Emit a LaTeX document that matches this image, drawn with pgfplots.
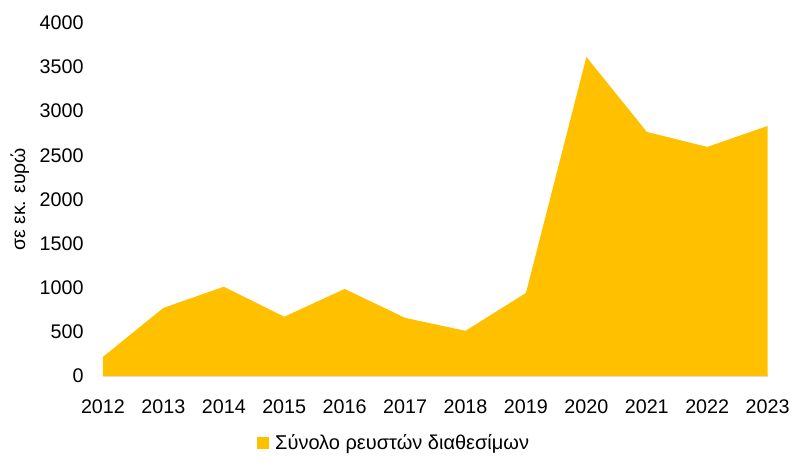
\documentclass[border=0pt]{standalone}
\usepackage{fontspec}
\setmainfont{Liberation Sans}
\usepackage{pgfplots}
\pgfplotsset{compat=1.18}
\definecolor{gold}{HTML}{FFC000}
\definecolor{axgray}{HTML}{D9D9D9}
\begin{document}
\begin{tikzpicture}
\begin{axis}[
  scale only axis,
  width=498.75pt, height=264.75pt,
  xmin=2012, xmax=2023, ymin=0, ymax=4000,
  xtick={2012,...,2023},
  ytick={0,500,...,4000},
  /pgf/number format/assume math mode=true,
  /pgf/number format/set thousands separator={},
  axis lines*=left,
  y axis line style={draw=none},
  x axis line style={draw=axgray, line width=1.5pt},
  tick style={draw=none},
  ticklabel style={font=\fontsize{14.8}{16}\selectfont, text=black},
  yticklabel style={xshift=-11pt},
  xticklabel style={yshift=-14.5pt},
  ylabel={σε εκ. ευρώ},
  ylabel style={font=\fontsize{14.6}{16}\selectfont, at={(axis description cs:-0.125,0.5)}, anchor=center},
  legend style={at={(rel axis cs:0.438,-0.19)}, anchor=center, draw=none, fill=none,
    font=\fontsize{15}{16}\selectfont, legend cell align=left},
  legend image code/.code={\fill[gold] (0pt,-4.5pt) rectangle (9pt,4.5pt);},
  clip=false,
]
\addplot[fill=gold, draw=none] coordinates {
(2012,215) (2013,770) (2014,1010) (2015,670) (2016,985) (2017,657)
(2018,510) (2019,940) (2020,3615) (2021,2765) (2022,2595) (2023,2833)
} \closedcycle;
\addlegendentry{\hspace{3pt}Σύνολο ρευστών διαθεσίμων}
\coordinate (bl) at (rel axis cs:-0.15489,-0.24363);
\coordinate (tr) at (rel axis cs:1.03910,1.06516);
\end{axis}
\path (bl) rectangle (tr);
\end{tikzpicture}
\end{document}
